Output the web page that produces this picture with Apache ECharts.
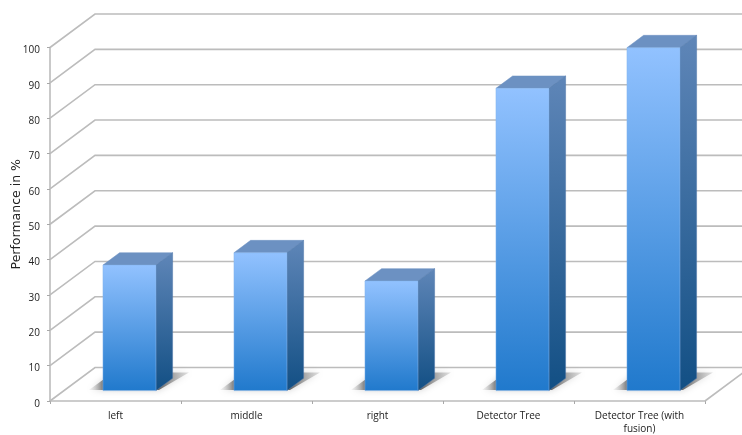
<!DOCTYPE html>
<html>
<head>
<meta charset="utf-8">
<style>html,body{margin:0;padding:0;background:#fff}#chart{width:742px;height:435px}</style>
<script src="https://cdn.jsdelivr.net/npm/echarts@6/dist/echarts.min.js"></script>
</head>
<body>
<div id="chart"></div>
<script>
const categories = ['left', 'middle', 'right', 'Detector Tree', 'Detector Tree (with\nfusion)'];
const performance = [35.5, 39, 31, 85.5, 97];
const yTicks = [0, 10, 20, 30, 40, 50, 60, 70, 80, 90, 100];

// Oblique projection: depth 1 is the back wall of the box.
const WALL = [45, -33.5];
const BAR_FRONT = 0.31;
const BAR_BACK = 0.68;
const BAR_WIDTH = 53;

const shifted = (p, d) => [p[0] + WALL[0] * d, p[1] + WALL[1] * d];
const vgrad = (a, b) => ({
  type: 'linear', x: 0, y: 0, x2: 0, y2: 1,
  colorStops: [{ offset: 0, color: a }, { offset: 1, color: b }]
});

function renderWallLine(params, api) {
  const sys = params.coordSys;
  const y = api.coord([0, api.value(0)])[1];
  const front = [sys.x, y];
  const back = shifted(front, 1);
  const children = [{
    type: 'polyline',
    shape: { points: [front, back, [sys.x + sys.width + WALL[0], back[1]]] },
    style: { fill: null, stroke: '#bcbcbc', lineWidth: 1.6 }
  }];
  if (api.value(0) === 0) {
    const corner = [sys.x + sys.width, y];
    children.push({
      type: 'line',
      shape: { x1: corner[0], y1: corner[1], x2: corner[0] + WALL[0], y2: corner[1] + WALL[1] },
      style: { stroke: '#bcbcbc', lineWidth: 1.6 }
    });
  }
  return { type: 'group', children };
}

function renderShadow(params, api) {
  const idx = api.value(0);
  const base = api.coord([idx, 0]);
  const l = shifted([base[0] - BAR_WIDTH / 2, base[1]], BAR_FRONT);
  const r = [l[0] + BAR_WIDTH, l[1]];
  const dy = WALL[1] * 0.54;
  return {
    type: 'polygon',
    shape: { points: [[l[0] - 14, l[1] - 0.5], [l[0] + 10, l[1] + dy], [r[0] + 33, r[1] + dy], [r[0] + 3, r[1] - 0.5]] },
    style: {
      fill: {
        type: 'linear', x: 0, y: 0, x2: 1, y2: 0,
        colorStops: [
          { offset: 0, color: 'rgba(210,210,210,0.2)' },
          { offset: 0.14, color: 'rgba(105,105,105,0.85)' },
          { offset: 0.7, color: 'rgba(90,90,90,0.9)' },
          { offset: 1, color: 'rgba(190,190,190,0.45)' }
        ]
      },
      shadowBlur: 7,
      shadowColor: 'rgba(150,150,150,0.5)'
    }
  };
}

function renderBar(params, api) {
  const idx = api.value(0);
  const base = api.coord([idx, 0]);
  const top = api.coord([idx, api.value(1)]);
  const half = BAR_WIDTH / 2;
  const fbl = shifted([base[0] - half, base[1]], BAR_FRONT);
  const fbr = shifted([base[0] + half, base[1]], BAR_FRONT);
  const ftl = shifted([base[0] - half, top[1]], BAR_FRONT);
  const ftr = shifted([base[0] + half, top[1]], BAR_FRONT);
  const depth = BAR_BACK - BAR_FRONT;
  const btl = shifted(ftl, depth);
  const btr = shifted(ftr, depth);
  const bbr = shifted(fbr, depth);
  return {
    type: 'group',
    children: [
      {
        type: 'polygon',
        shape: { points: [ftl, btl, btr, ftr] },
        style: { fill: '#6c91c2', stroke: '#6c91c2', lineWidth: 0.5 }
      },
      {
        type: 'polygon',
        shape: { points: [ftr, btr, bbr, fbr] },
        style: { fill: vgrad('#5f86b8', '#124f84'), stroke: '#4f77a8', lineWidth: 0.5 }
      },
      {
        type: 'polygon',
        shape: { points: [ftl, ftr, fbr, fbl] },
        style: { fill: vgrad('#92c2ff', '#2079cc'), stroke: 'rgba(130,180,235,0.45)', lineWidth: 1 }
      }
    ]
  };
}

const barRows = performance.map((v, i) => [i, v]);
const labelFont = { fontFamily: 'Open Sans', fontSize: 10, color: '#222' };

const chart = echarts.init(document.getElementById('chart'), null, { renderer: 'canvas' });
chart.setOption({
  animation: false,
  backgroundColor: '#ffffff',
  grid: { left: 50, right: 37, top: 47.5, bottom: 34, containLabel: false, outerBoundsMode: 'none' },
  xAxis: {
    type: 'category',
    data: categories,
    boundaryGap: true,
    axisLine: { lineStyle: { color: '#bcbcbc', width: 1.6 } },
    axisTick: { show: true, alignWithLabel: false, length: 3, lineStyle: { color: '#a8a8a8' } },
    axisLabel: Object.assign({ margin: 9, interval: 0, lineHeight: 13 }, labelFont),
    splitLine: { show: false }
  },
  yAxis: {
    type: 'value',
    min: 0,
    max: 100,
    interval: 10,
    name: 'Performance in %',
    nameLocation: 'middle',
    nameRotate: 90,
    nameGap: 27,
    nameMoveOverlap: false,
    nameTextStyle: { fontFamily: 'DejaVu Sans', fontSize: 12.5, color: '#222', padding: [0, 0, 0, 20] },
    axisLine: { show: true, lineStyle: { color: '#bcbcbc', width: 1.6 } },
    axisTick: { show: true, length: 3, lineStyle: { color: '#a8a8a8' } },
    axisLabel: Object.assign({ margin: 10, verticalAlign: 'top', lineHeight: 6 }, labelFont),
    splitLine: { show: false }
  },
  series: [
    {
      type: 'custom', name: 'walls', coordinateSystem: 'cartesian2d',
      clip: false, z: 1, silent: true,
      data: yTicks.map(v => [v]),
      encode: { y: 0 },
      renderItem: renderWallLine
    },
    {
      type: 'custom', name: 'shadows', coordinateSystem: 'cartesian2d',
      clip: false, z: 2, silent: true,
      data: barRows,
      encode: { x: 0, y: 1 },
      renderItem: renderShadow
    },
    {
      type: 'custom', name: 'Performance', coordinateSystem: 'cartesian2d',
      clip: false, z: 3,
      data: barRows,
      encode: { x: 0, y: 1 },
      renderItem: renderBar
    }
  ]
});
</script>
</body>
</html>
